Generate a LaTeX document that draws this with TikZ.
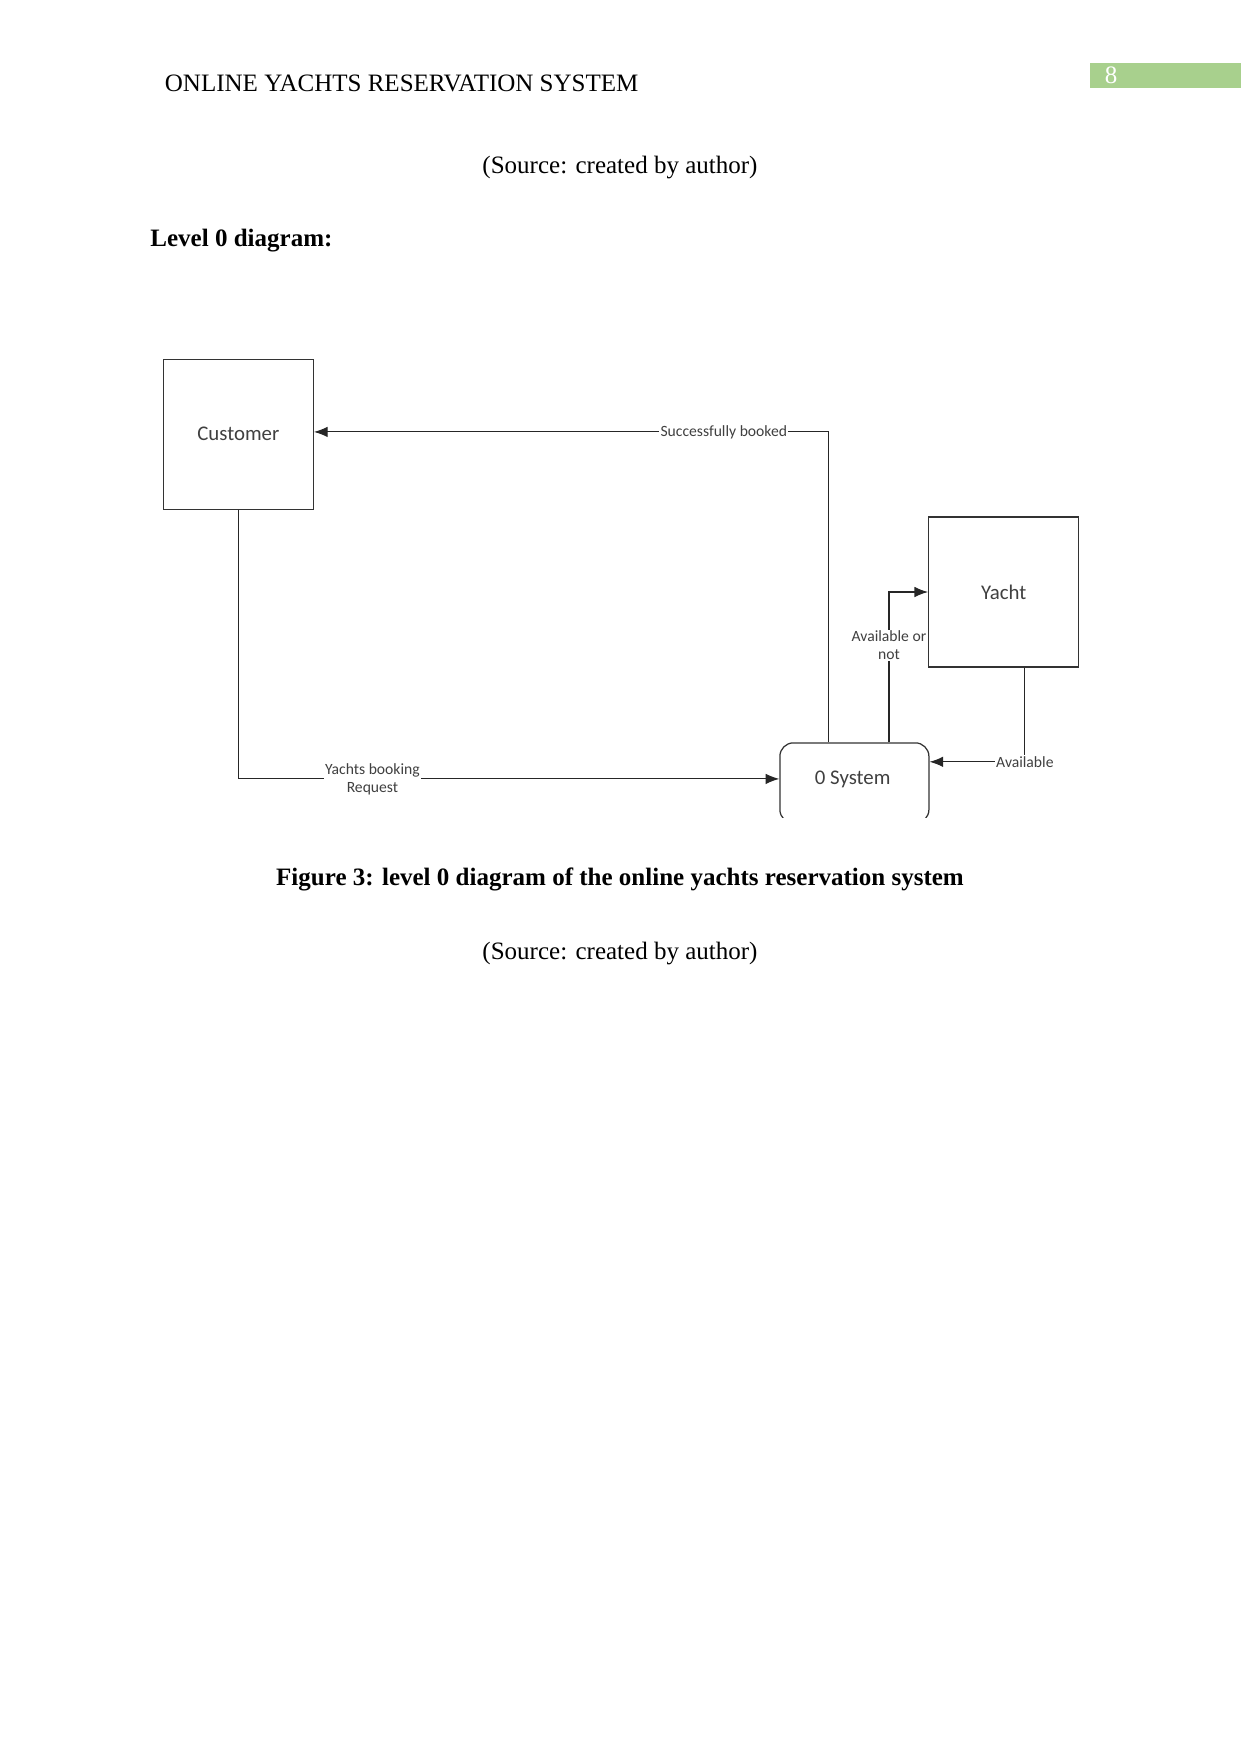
\documentclass[tikz,border=0pt]{standalone}
\usepackage{fontspec}
\setmainfont{Liberation Serif}
\newfontfamily\dfdfont{Carlito}
\usetikzlibrary{arrows.meta,calc}
\definecolor{pagegreen}{RGB}{168,208,141}
\definecolor{dfdgray}{RGB}{64,64,64}

\begin{document}
\begin{tikzpicture}[x=0.4797pt,y=-0.4797pt,
  entity/.style={draw=black!80,line width=0.6pt,minimum width=72pt,minimum height=72pt,
    font=\dfdfont\fontsize{10}{12}\selectfont,text=dfdgray},
  process/.style={draw=black!80,line width=0.6pt,rounded corners=6.5pt,minimum width=71.5pt,
    minimum height=38.5pt,font=\dfdfont\fontsize{10}{12}\selectfont,text=dfdgray},
  flow/.style={draw=black!85,line width=0.5pt,-{Latex[length=6.5pt,width=5pt]}},
  flowlabel/.style={fill=white,inner sep=0.6pt,align=center,text=dfdgray,
    font=\dfdfont\fontsize{7.5}{8.6}\selectfont},
  body/.style={font=\fontsize{12}{14}\selectfont}]
  \useasboundingbox (0,0) rectangle (1241,1754);

  % page header and text
  \node[body,anchor=west,inner sep=0pt] (head) at (164.5,83.5) {ONLINE YACHTS RESERVATION SYSTEM};
  \fill[pagegreen] (1090,62.7) rectangle (1241,88.4);
  \node[body,text=white] (pageno) at (1111,75.5) {8};
  \node[body] (src1) at (620,168) {(Source: created by author)};
  \node[body,anchor=west,inner sep=0pt,font=\fontsize{12}{14}\selectfont\bfseries] (lvl) at (150,241) {Level 0 diagram:};

  % entities and process
  \node[entity] (cust) at (238.3,434.2) {Customer};
  \node[entity] (yacht) at (1003.7,592) {Yacht};
  \begin{scope}
    \clip (760,700) rectangle (950,817);
    \node[process] (sys) at (854.4,783) {};
  \end{scope}
  \node[font=\dfdfont\fontsize{10}{12}\selectfont,text=dfdgray] (systxt) at (852.7,779) {0 System};
  \coordinate (sysa) at ($(sys.north west)!0.33!(sys.north east)$);
  \coordinate (sysb) at ($(sys.north west)!0.73!(sys.north east)$);
  \coordinate (sysc) at ($(sys.north east)!0.24!(sys.south east)$);
  \coordinate (sysin) at ($(sys.north west)!0.45!(sys.south west)$);
  \coordinate (custin) at ($(cust.north east)!0.485!(cust.south east)$);
  \coordinate (yachtb) at ($(yacht.south west)!0.64!(yacht.south east)$);

  % data flows
  \draw[flow] (cust.south) |- (sysin)
    node[flowlabel,pos=0.624] {Yachts booking\\Request};
  \draw[flow] (sysa) |- (custin)
    node[flowlabel,pos=0.602] {Successfully booked};
  \draw[flow] (sysb) |- (yacht.west)
    node[flowlabel,pos=0.322] {Available or\\not};
  \draw[flow] (yachtb) |- (sysc)
    node[flowlabel,pos=0.5] {Available};

  % caption
  \node[body,font=\fontsize{12}{14}\selectfont\bfseries] (cap) at (620,879.5)
    {Figure 3: level 0 diagram of the online yachts reservation system};
  \node[body] (src2) at (620,953.5) {(Source: created by author)};
\end{tikzpicture}
\end{document}
